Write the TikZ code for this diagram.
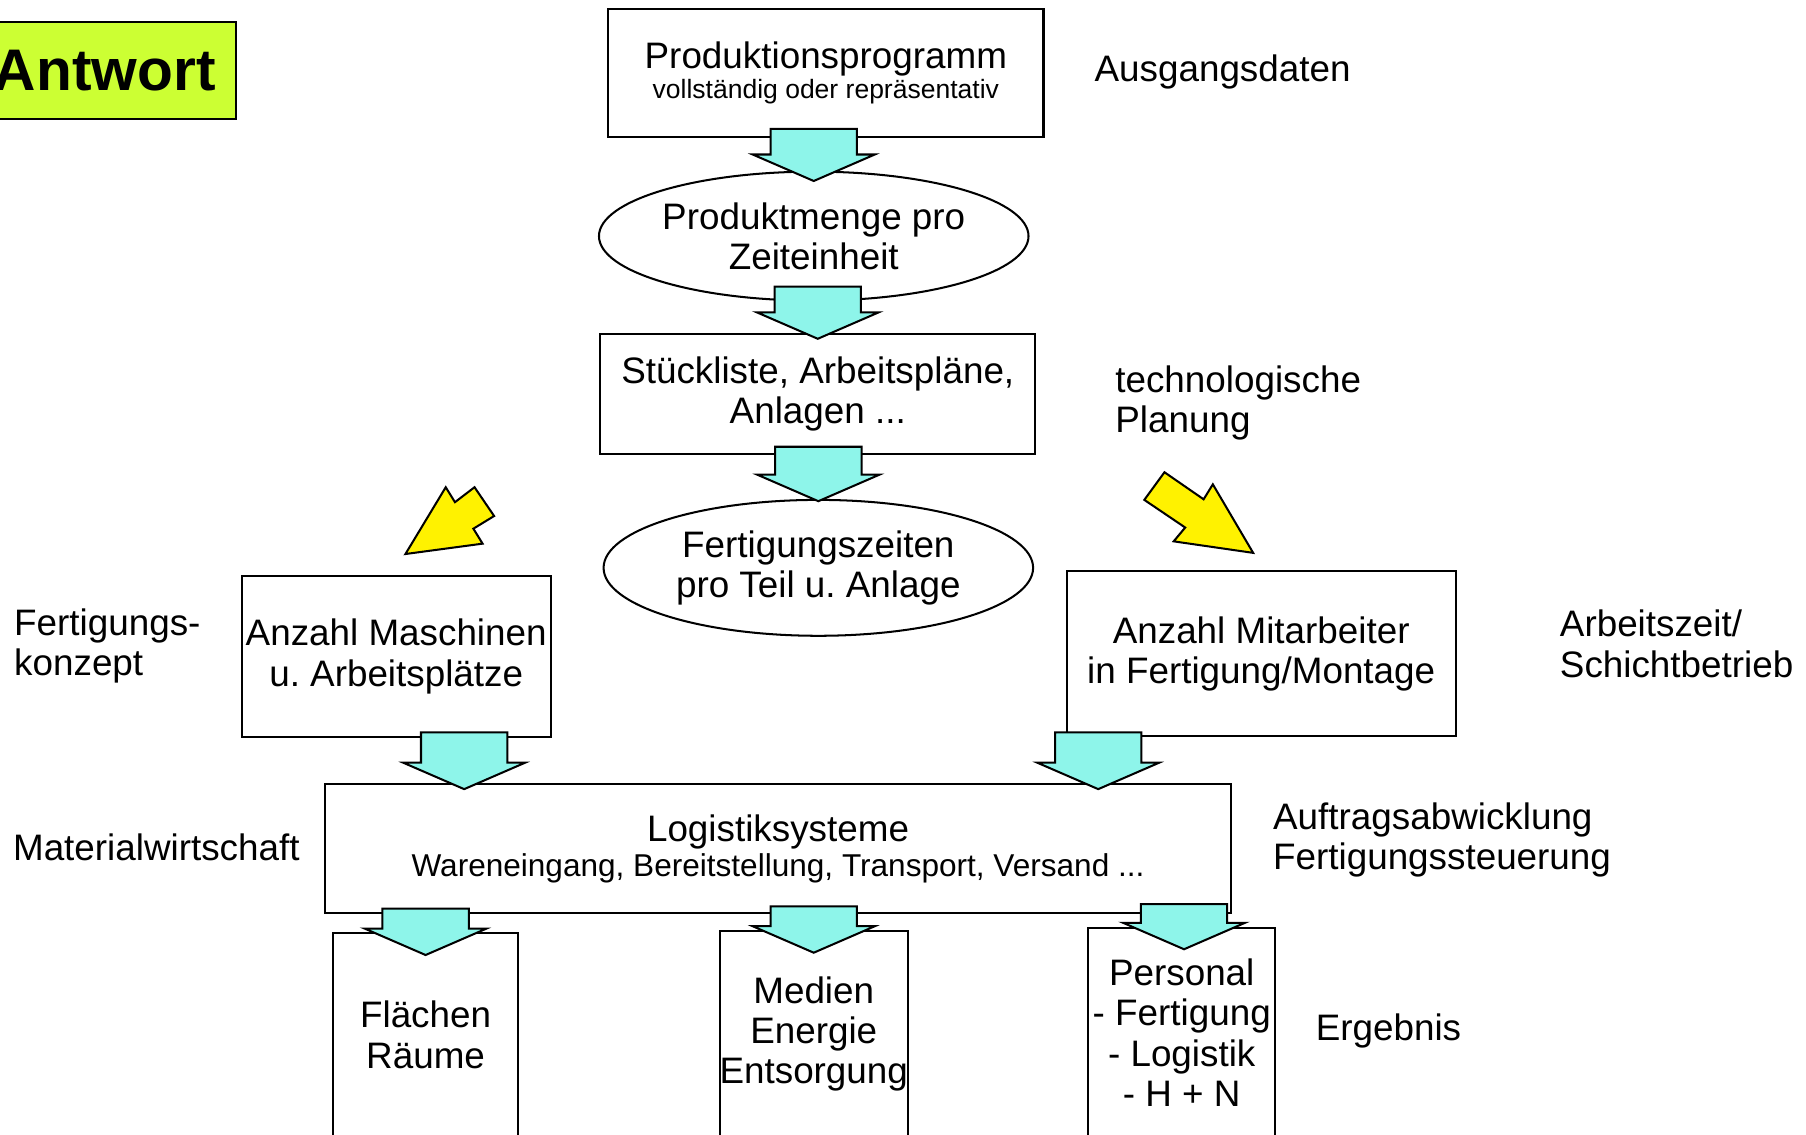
\documentclass[tikz,border=0pt]{standalone}
\usepackage{fontspec}
\setmainfont{Liberation Sans}
\frenchspacing
\usetikzlibrary{calc,shapes.geometric}
\definecolor{flowcyan}{RGB}{142,245,234}
\definecolor{answergreen}{RGB}{204,255,51}
\newcommand{\bigsize}{\fontsize{18.2}{19.9}\selectfont}
\newcommand{\smallsize}{\fontsize{13.1}{15}\selectfont}
\newcommand{\waresize}{\fontsize{15.6}{18}\selectfont}
\tikzstyle{sbox}=[rectangle, draw=black, line width=1pt, align=center, inner sep=0pt, font=\bigsize]
\tikzstyle{sell}=[ellipse, draw=black, line width=1pt, align=center, inner sep=0pt, font=\bigsize]
\tikzstyle{stext}=[anchor=west, align=left, inner sep=0pt, font=\bigsize]
\tikzstyle{flow}=[draw=black, fill=flowcyan, line width=1pt]
\tikzstyle{hint}=[draw=black, fill=yellow, line width=1pt]
\newcommand{\flowarrow}[2]{%
  \draw[flow] let \p1=#1, \p2=#2 in
    (\x1-0.75cm,\y1) -- (\x1+0.75cm,\y1) -- (\x1+0.75cm,\y2+0.46cm)
    -- (\x1+1.06cm,\y2+0.46cm) -- (\x2,\y2) -- (\x1-1.06cm,\y2+0.46cm)
    -- (\x1-0.75cm,\y2+0.46cm) -- cycle;}

\begin{document}
\begin{tikzpicture}[x=0.02cm, y=-0.02cm]
    \useasboundingbox (0,0) rectangle (1568,985);
    \clip (0,0) rectangle (1568,985);

    \node (antw) [rectangle, draw=black, fill=answergreen, line width=1pt, minimum width=4.56cm, minimum height=1.68cm,
	font=\fontsize{29}{32}\selectfont\bfseries] at (91,61) {Antwort};

    \node (prog) [sbox, minimum width=7.56cm, minimum height=2.22cm] at (717,63.5)
	{Produktionsprogramm\\[-4.9pt]{\smallsize vollständig oder repräsentativ}};
    \node (menge) [sell, minimum width=7.46cm, minimum height=2.24cm] at (706.5,205) {Produktmenge pro\\Zeiteinheit};
    \node (stueck) [sbox, minimum width=7.56cm, minimum height=2.08cm] at (710,342) {Stückliste, Arbeitspläne,\\Anlagen ...};
    \node (zeiten) [sell, minimum width=7.46cm, minimum height=2.36cm] at (710.5,493) {Fertigungszeiten\\pro Teil u. Anlage};

    \node (masch) [sbox, minimum width=5.36cm, minimum height=2.8cm] at (344,570) {Anzahl Maschinen\\u. Arbeitsplätze};
    \node (mitarb) [sbox, minimum width=6.76cm, minimum height=2.86cm] at (1095,567.5) {Anzahl Mitarbeiter\\in Fertigung/Montage};

    \node (logistik) [sbox, minimum width=15.74cm, minimum height=2.24cm] at (675.5,737)
	{Logistiksysteme\\[-2.3pt]{\waresize Wareneingang, Bereitstellung, Transport, Versand ...}};

    \node (flaechen) [sbox, minimum width=3.22cm, minimum height=3.54cm] at (369.5,898.5) {Flächen\\Räume};
    \node (medien) [sbox, minimum width=3.22cm, minimum height=3.58cm] at (706.5,897.5) {Medien\\Energie\\Entsorgung};
    \node (personal) [sbox, minimum width=3.24cm, minimum height=3.62cm] at (1026,896.5) {Personal\\- Fertigung\\- Logistik\\- H + N};

% side labels
    \node (ausg) [stext] at (950,62.5) {Ausgangsdaten};
    \node (techn) [stext] at (968,350) {technologische\\Planung};
    \node (konz) [stext] at (12,561) {Fertigungs-\\konzept};
    \node (schicht) [stext] at (1354,559) {Arbeitszeit/\\Schichtbetrieb};
    \node (matw) [stext] at (11,735.5) {Materialwirtschaft};
    \node (auftr) [stext] at (1105,729) {Auftragsabwicklung\\Fertigungssteuerung};
    \node (ergeb) [stext] at (1142,895.5) {Ergebnis};

% flow arrows
   \flowarrow{($(prog.south -| menge.north)+(0,-8)$)}{($(menge.north)+(0,9)$)}
   \flowarrow{($(menge.south -| stueck.north)+(0,-13)$)}{($(stueck.north)+(0,5)$)}
   \flowarrow{($(stueck.south -| zeiten.north)+(0,-7)$)}{($(zeiten.north)+(0,2)$)}

   \flowarrow{($(masch.south)+(59,-5)$)}{($(logistik.north -| masch.south)+(59,5)$)}
   \flowarrow{($(mitarb.south)+(-141.5,-4)$)}{($(logistik.north -| mitarb.south)+(-141.5,5)$)}

   \flowarrow{($(flaechen.north |- logistik.south)+(0,-5)$)}{($(flaechen.north)+(0,20)$)}
   \flowarrow{($(medien.north |- logistik.south)+(0,-7)$)}{($(medien.north)+(0,20)$)}
   \flowarrow{($(personal.north |- logistik.south)+(2,-9)$)}{($(personal.north)+(2,19)$)}

% yellow arrows
   \draw[hint] (352,481) -- (419,472) -- (411,459) -- (429,448) -- (412,423) -- (395,436) -- (387,423) -- cycle;
   \draw[hint] (1088,480) -- (1053,420.5) -- (1045,433.5) -- (1011,410) -- (993.5,434) -- (1029,458) -- (1019,470) -- cycle;
\end{tikzpicture}
\end{document}
